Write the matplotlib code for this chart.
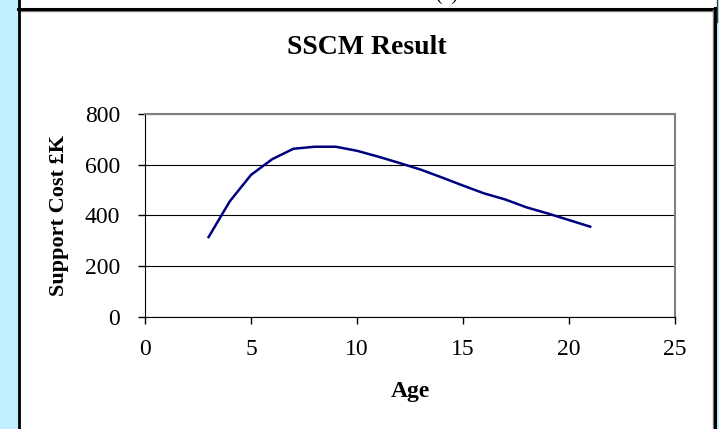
import matplotlib.pyplot as plt
from matplotlib.patches import Rectangle
from matplotlib.lines import Line2D

# SSCM result: support cost by age
ages = [3, 4, 5, 6, 7, 8, 9, 10, 11, 12, 13, 14, 15, 16, 17, 18, 19, 20, 21]
cost = [315, 456, 560, 622, 663, 671, 671, 655, 632, 607, 581, 550, 518, 487, 463, 432, 408, 382, 356]

x_ticks = [0, 5, 10, 15, 20, 25]
y_ticks = [0, 200, 400, 600, 800]

W, H = 719, 429
plt.rcParams['font.family'] = ['Liberation Serif', 'DejaVu Serif']

fig = plt.figure(figsize=(W / 100, H / 100), dpi=100, facecolor='#C0F0FF')


def px(x0, y0, x1, y1):
    # pixel box (top-left origin) -> figure fraction rectangle
    return (x0 / W, 1 - y1 / H), (x1 - x0) / W, (y1 - y0) / H


# white chart area and the strip of the box above it
for box in [(19, 0, 716, H), (19, 0, 718, 22)]:
    xy, w, h = px(*box)
    fig.add_artist(Rectangle(xy, w, h, transform=fig.transFigure,
                             facecolor='white', edgecolor='none', zorder=0))

# borders
def hline(y, x0, x1, c, lw):
    fig.add_artist(Line2D([x0 / W, x1 / W], [1 - y / H, 1 - y / H],
                          transform=fig.transFigure, color=c, lw=lw))


def vline(x, y0, y1, c, lw):
    fig.add_artist(Line2D([x / W, x / W], [1 - y0 / H, 1 - y1 / H],
                          transform=fig.transFigure, color=c, lw=lw))


hline(10.5, 19, 713, '#808080', 1.0)
hline(9, 18, 716, 'black', 2.2)
vline(19, 0, H, 'black', 2.0)
vline(712.5, 10, H, '#808080', 1.0)
vline(714.5, 8, H, 'black', 2.2)
vline(716.5, 0, 22, '#404040', 1.0)

# top box text, mostly cut off in the original too
fig.text(447 / W, 1.0, "(b)", ha='center', va='baseline', fontsize=14)

ax = fig.add_axes([145 / W, 1 - 317 / H, 530 / W, 203 / H])
ax.set_facecolor('white')
ax.plot(ages, cost, color='#000080', lw=1.8, zorder=3)

ax.set_xlim(0, 25)
ax.set_ylim(0, 800)
ax.set_xticks(x_ticks)
ax.set_yticks(y_ticks)
ax.yaxis.grid(True, color='black', lw=0.8)
ax.set_axisbelow(True)
ax.tick_params(direction='out', length=5, width=1, labelsize=17, color='black')
ax.tick_params(axis='y', pad=13)
ax.tick_params(axis='x', pad=11)

ax.spines['left'].set_color('black')
ax.spines['bottom'].set_color('black')
for s in ['top', 'right']:
    ax.spines[s].set_color('#808080')
    ax.spines[s].set_linewidth(1.5)

ax.set_xlabel("Age", fontsize=17, fontweight='bold', labelpad=15)
ax.set_ylabel("Support Cost £K", fontsize=16, fontweight='bold', labelpad=11)

fig.text(367 / W, 1 - 47 / H, "SSCM Result", ha='center', va='center',
         fontsize=20, fontweight='bold')

fig.savefig("out.png", dpi=100, facecolor=fig.get_facecolor())
